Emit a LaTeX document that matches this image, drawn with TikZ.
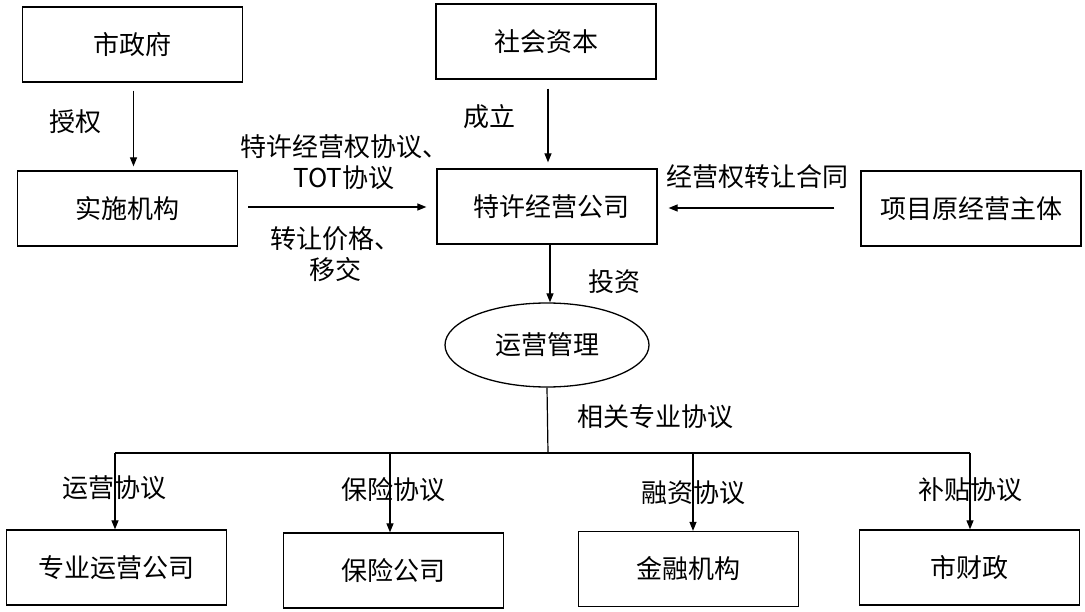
\documentclass[tikz,border=0pt]{standalone}
\usepackage{fontspec}
\setmainfont{Noto Sans CJK SC}
\usetikzlibrary{arrows.meta,shapes.geometric}
\begin{document}
\begin{tikzpicture}[x=1pt,y=-1pt,
  font=\fontsize{26}{31}\selectfont,
  box/.style={draw, line width=1.3pt, minimum width=220pt, minimum height=75pt, inner sep=0pt},
  oval/.style={draw, ellipse, line width=1.3pt, minimum width=204pt, minimum height=84pt, inner sep=0pt},
  lbl/.style={inner sep=0pt, align=center},
  arr/.style={line width=1.2pt, -{Triangle[length=9pt,width=7pt]}},
  ln/.style={line width=1.2pt}]
\useasboundingbox (0,0) rectangle (1085,612);
% boxes
\node[box] (gov)  at (132.5,44.5) {市政府};
\node[box] (cap)  at (546,41.5)   {社会资本};
\node[box] (impl) at (127.5,208.5) {实施机构};
\node[box] (spv)  at (547,206.5)  {\hspace{8pt}特许经营公司};
\node[box] (orig) at (971,208.5)  {项目原经营主体};
\node[oval] (om)  at (547,345)    {运营管理};
\node[box] (b1) at (116.5,567.5) {专业运营公司};
\node[box] (b2) at (393.5,570.5) {保险公司};
\node[box] (b3) at (688.5,569)   {金融机构};
\node[box] (b4) at (969.5,567.5) {市财政};
% labels
\node[lbl] (l1) at (75,122) {授权};
\node[lbl] (l2) at (344,162.5) {特许经营权协议、\\TOT协议};
\node[lbl] (l3) at (335,254) {转让价格、\\移交};
\node[lbl] (l4) at (489,117) {成立};
\node[lbl] (l5) at (757,177) {经营权转让合同};
\node[lbl] (l6) at (614,282) {投资};
\node[lbl] (l7) at (655,417) {相关专业协议};
\node[lbl] (l8) at (114,488) {运营协议};
\node[lbl] (l9) at (393,490) {保险协议};
\node[lbl] (l10) at (693,493) {融资协议};
\node[lbl] (l11) at (970,490) {补贴协议};
% bus coordinates
\coordinate (bus) at (548,453);
\coordinate (busL) at (115,453);
\coordinate (busR) at (970,453);
% connectors
\draw[arr] ([xshift=1pt,yshift=-8pt]gov.south) -- ([xshift=6pt,yshift=4pt]impl.north);
\draw[arr] ([xshift=2pt,yshift=-9pt]cap.south) -- ([xshift=1pt,yshift=6pt]spv.north);
\draw[arr] ([xshift=10pt,yshift=1.5pt]impl.east) -- ([xshift=-10pt,yshift=-0.5pt]spv.west);
\draw[arr] ([xshift=-26pt,yshift=0.5pt]orig.west) -- ([xshift=11pt,yshift=-1.5pt]spv.east);
\draw[arr] ([xshift=3pt]spv.south) -- ([xshift=3pt]om.north);
\draw[ln] (om.south) -- (bus);
\draw[ln] (busL) -- (busR);
\draw[arr] (busL) -- (b1.north -| busL);
\draw[arr] ([xshift=-3.5pt]b2.north |- bus) -- ([xshift=-3.5pt]b2.north);
\draw[arr] ([xshift=4.5pt]b3.north |- bus) -- ([xshift=4.5pt]b3.north);
\draw[arr] (busR) -- (b4.north -| busR);
\end{tikzpicture}
\end{document}
